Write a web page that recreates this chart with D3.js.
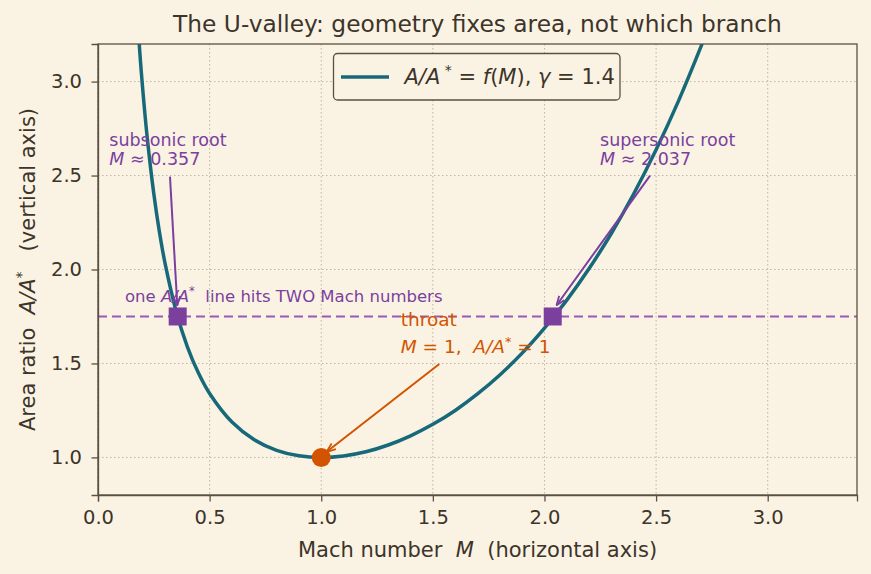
<!DOCTYPE html>
<html>
<head>
<meta charset="utf-8">
<script src="https://cdn.jsdelivr.net/npm/d3@7/dist/d3.min.js"></script>
<style>
  body { margin: 0; background: #faf3e3; }
  svg { font-family: "DejaVu Sans", sans-serif; }
  text { white-space: pre; }
  .grid line { stroke: #b8ae9c; stroke-dasharray: 1.5 2.5; stroke-width: 0.9; }
  .axis path, .axis line { stroke: #5b5041; stroke-width: 1.3; }
</style>
</head>
<body>
<svg class="chart"></svg>
<script>
// A/A*, gamma = 1.4
var machValues = [0.17, 0.18, 0.19, 0.2, 0.22, 0.25, 0.275, 0.3, 0.35, 0.4, 0.45, 0.5, 0.6, 0.7, 0.8, 0.9,
  1.0, 1.1, 1.2, 1.3, 1.4, 1.5, 1.6, 1.7, 1.8, 1.9, 2.0, 2.1, 2.2, 2.3, 2.4, 2.5, 2.6, 2.7, 2.75];
var areaRatio = [3.464, 3.278, 3.112, 2.964, 2.708, 2.403, 2.201, 2.035, 1.778, 1.590, 1.449, 1.340, 1.188, 1.094, 1.038, 1.009,
  1.000, 1.008, 1.030, 1.066, 1.115, 1.176, 1.250, 1.338, 1.439, 1.555, 1.688, 1.837, 2.005, 2.193, 2.403, 2.637, 2.896, 3.183, 3.338];
var targetRatio = 1.75;
var rootMach = [0.357, 2.037];
var xTicks = [0, 0.5, 1.0, 1.5, 2.0, 2.5, 3.0];
var yTicks = [1.0, 1.5, 2.0, 2.5, 3.0];

var margin = {top: 44, right: 14, bottom: 79, left: 98},
    width = 871 - margin.left - margin.right,
    height = 574 - margin.top - margin.bottom;

var ink = "#3d342a", purple = "#7b3f9e", orange = "#d35400", teal = "#17697a";

var svg = d3.select(".chart").attr("width", 871).attr("height", 574);

var defs = svg.append("defs");
defs.append("clipPath").attr("id", "plotClip")
  .append("rect").attr("width", width).attr("height", height);
[["arrPurple", purple], ["arrOrange", orange]].forEach(function(a) {
  defs.append("marker").attr("id", a[0])
    .attr("viewBox", "0 0 10 10").attr("refX", 9).attr("refY", 5)
    .attr("markerUnits", "userSpaceOnUse")
    .attr("markerWidth", 10).attr("markerHeight", 10).attr("orient", "auto")
    .append("path").attr("d", "M0,1.5 L9.5,5 L0,8.5").attr("fill", "none")
    .attr("stroke", a[1]).attr("stroke-width", 1.8);
});

var chart = svg.append("g")
  .attr("transform", "translate(" + margin.left + "," + margin.top + ")");

var x = d3.scaleLinear().domain([0, 3.4]).range([0, width]);
var y = d3.scaleLinear().domain([0.8, 3.2]).range([height, 0]);

// grid
chart.append("g").attr("class", "grid").selectAll("line").data(xTicks).enter()
  .append("line").attr("x1", x).attr("x2", x).attr("y1", 0).attr("y2", height);
chart.append("g").attr("class", "grid").selectAll("line").data(yTicks).enter()
  .append("line").attr("y1", y).attr("y2", y).attr("x1", 0).attr("x2", width);

var plot = chart.append("g").attr("clip-path", "url(#plotClip)");

// target line
plot.append("line")
  .attr("x1", 0).attr("x2", width)
  .attr("y1", y(targetRatio)).attr("y2", y(targetRatio))
  .attr("stroke", "#9b59b6").attr("stroke-width", 2).attr("stroke-dasharray", "9 5");

var line = d3.line()
  .x(function(d, i) { return x(machValues[i]); })
  .y(function(d) { return y(d); })
  .curve(d3.curveCatmullRom);

plot.append("path").datum(areaRatio)
  .attr("d", line).attr("fill", "none")
  .attr("stroke", teal).attr("stroke-width", 3.5);

// annotations
function arrow(x1, y1, x2, y2, color, id) {
  chart.append("line")
    .attr("x1", x(x1)).attr("y1", y(y1)).attr("x2", x(x2)).attr("y2", y(y2))
    .attr("stroke", color).attr("stroke-width", 2)
    .attr("marker-end", "url(#" + id + ")");
}
arrow(0.3225, 2.494, 0.355, 1.811, purple, "arrPurple");
arrow(2.473, 2.5, 2.055, 1.811, purple, "arrPurple");
arrow(1.529, 1.497, 1.0245, 1.03, orange, "arrOrange");

// markers
chart.selectAll(".root").data(rootMach).enter()
  .append("rect").attr("class", "root")
  .attr("x", function(d) { return x(d) - 9; })
  .attr("y", y(targetRatio) - 9)
  .attr("width", 18).attr("height", 18)
  .attr("fill", purple);

chart.append("circle")
  .attr("cx", x(1)).attr("cy", y(1)).attr("r", 9.5)
  .attr("fill", orange);

function label(tx, ty, parts, color, size) {
  var t = chart.append("text").attr("x", x(tx)).attr("y", y(ty))
    .attr("fill", color).style("font-size", size + "px");
  parts.forEach(function(p) {
    var s = t.append("tspan").text(p[0]);
    if (p[1] === "i") s.style("font-style", "italic");
    if (p[1] === "sup") s.attr("dy", -size * 0.4).style("font-size", (size * 0.7) + "px");
    if (p[1] === "down") s.attr("dy", size * 0.4);
  });
  return t;
}

label(0.0506, 2.659, [["subsonic root"]], purple, 17.5);
label(0.0506, 2.556, [["M", "i"], [" \u2248 0.357"]], purple, 17.5);
label(2.249, 2.659, [["supersonic root"]], purple, 17.5);
label(2.249, 2.556, [["M", "i"], [" \u2248 2.037"]], purple, 17.5);
label(0.121, 1.829, [["one "], ["A/A", "i"], ["*", "sup"], ["  line hits TWO Mach numbers", "down"]], purple, 16.5);
label(1.356, 1.697, [["throat"]], orange, 18.5);
label(1.356, 1.556, [["M", "i"], [" = 1,  "], ["A/A", "i"], ["*", "sup"], [" = 1", "down"]], orange, 18.5);

// axes
function styleAxis(g) {
  g.attr("font-family", null).attr("font-size", null);
  g.selectAll("text").attr("fill", ink).style("font-size", "19.5px");
}
chart.append("g").attr("class", "axis")
  .attr("transform", "translate(0," + height + ")")
  .call(d3.axisBottom(x).tickValues(xTicks).tickFormat(d3.format(".1f"))
    .tickSizeOuter(0).tickSize(6.5).tickPadding(9))
  .call(styleAxis);
chart.append("g").attr("class", "axis")
  .call(d3.axisLeft(y).tickValues(yTicks).tickFormat(d3.format(".1f"))
    .tickSizeOuter(0).tickSize(6.5).tickPadding(9.5))
  .call(styleAxis);
chart.append("rect").attr("width", width).attr("height", height)
  .attr("fill", "none").attr("stroke", "#5b5041").attr("stroke-width", 1.3);

// title and labels
svg.append("text").attr("x", margin.left + width / 2).attr("y", 31.5)
  .attr("text-anchor", "middle").attr("fill", ink).style("font-size", "23.3px")
  .text("The U-valley: geometry fixes area, not which branch");

var xl = svg.append("text").attr("x", margin.left + width / 2).attr("y", 557)
  .attr("text-anchor", "middle").attr("fill", ink).style("font-size", "21px");
xl.append("tspan").text("Mach number  ");
xl.append("tspan").style("font-style", "italic").text("M");
xl.append("tspan").text("  (horizontal axis)");

var yl = svg.append("text").attr("transform", "translate(35," + (margin.top + height / 2) + ") rotate(-90)")
  .attr("text-anchor", "middle").attr("fill", ink).style("font-size", "21px");
yl.append("tspan").text("Area ratio  ");
yl.append("tspan").style("font-style", "italic").text("A/A");
yl.append("tspan").attr("dy", -9).style("font-size", "14px").text("*");
yl.append("tspan").attr("dy", 9).text("   (vertical axis)");

// legend
var lg = chart.append("g").attr("transform", "translate(" + (333.5 - margin.left) + "," + (53.5 - margin.top) + ")");
lg.append("rect").attr("width", 286.5).attr("height", 46.5).attr("rx", 4)
  .attr("fill", "#faf3e3").attr("stroke", "#5b5041").attr("stroke-width", 1.3);
lg.append("line").attr("x1", 7.5).attr("x2", 55.5).attr("y1", 23.5).attr("y2", 23.5)
  .attr("stroke", teal).attr("stroke-width", 3.5);
var lt = lg.append("text").attr("x", 71).attr("y", 30.5).attr("fill", ink).style("font-size", "21px");
lt.append("tspan").style("font-style", "italic").text("A/A");
lt.append("tspan").attr("dy", -9).style("font-size", "14px").text(" *");
lt.append("tspan").attr("dy", 9).text(" = ");
lt.append("tspan").style("font-style", "italic").text("f");
lt.append("tspan").text("(");
lt.append("tspan").style("font-style", "italic").text("M");
lt.append("tspan").text("), ");
lt.append("tspan").style("font-style", "italic").text("\u03b3");
lt.append("tspan").text(" = 1.4");
</script>
</body>
</html>
